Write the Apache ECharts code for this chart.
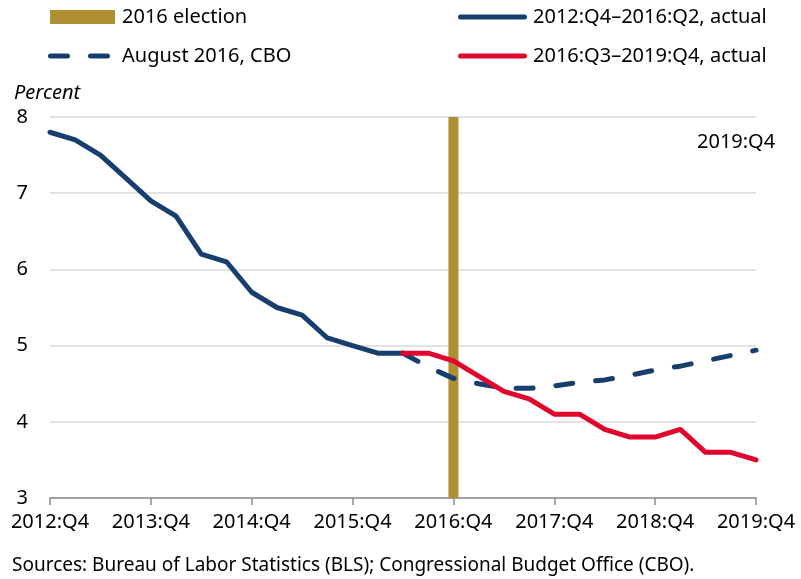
<!DOCTYPE html>
<html>
<head>
<meta charset="utf-8">
<script src="https://cdn.jsdelivr.net/npm/echarts@6/dist/echarts.min.js"></script>
<style>
  html, body { margin: 0; padding: 0; background: #fff; }
  #chart { width: 801px; height: 579px; }
</style>
</head>
<body>
<div id="chart"></div>
<script>
// quarters 2012:Q4 .. 2019:Q4
var quarters = ['2012:Q4',
  '2013:Q1', '2013:Q2', '2013:Q3', '2013:Q4',
  '2014:Q1', '2014:Q2', '2014:Q3', '2014:Q4',
  '2015:Q1', '2015:Q2', '2015:Q3', '2015:Q4',
  '2016:Q1', '2016:Q2', '2016:Q3', '2016:Q4',
  '2017:Q1', '2017:Q2', '2017:Q3', '2017:Q4',
  '2018:Q1', '2018:Q2', '2018:Q3', '2018:Q4',
  '2019:Q1', '2019:Q2', '2019:Q3', '2019:Q4']

var actualBefore = [7.8, 7.7, 7.5, 7.2, 6.9, 6.7, 6.2, 6.1, 5.7, 5.5, 5.4, 5.1, 5.0, 4.9, 4.9,
  null, null, null, null, null, null, null, null, null, null, null, null, null, null]

var actualAfter = [null, null, null, null, null, null, null, null, null, null, null, null, null, null,
  4.9, 4.9, 4.8, 4.6, 4.4, 4.3, 4.1, 4.1, 3.9, 3.8, 3.8, 3.9, 3.6, 3.6, 3.5]

var cboForecast = [null, null, null, null, null, null, null, null, null, null, null, null, null, null,
  4.9, 4.72, 4.57, 4.5, 4.44, 4.44, 4.47, 4.52, 4.55, 4.61, 4.68, 4.73, 4.8, 4.87, 4.94]

var election = quarters.map(function (q) { return q === '2016:Q4' ? 8 : null })

var yTicks = [3, 4, 5, 6, 7, 8]

var font = 'Noto Sans'
var blue = '#173f6d'
var red = '#e1062d'
var gold = '#ae9032'

// legend icons: a rounded bar, and two rounded dashes
var solidIcon = 'path://M2.5,0h64a2.5,2.5 0 0 1 0,5h-64a2.5,2.5 0 0 1 0,-5z'
var dashIcon = 'path://M2.5,0h17a2.5,2.5 0 0 1 0,5h-17a2.5,2.5 0 0 1 0,-5z M42.5,0h17a2.5,2.5 0 0 1 0,5h-17a2.5,2.5 0 0 1 0,-5z'

var chart = echarts.init(document.getElementById('chart'))

function legendItem(name, icon, left, top, w, h, pad) {
  return {
    left: left,
    top: top,
    itemWidth: w,
    itemHeight: h,
    itemGap: 0,
    selectedMode: false,
    itemStyle: { borderWidth: 0 },
    textStyle: { fontFamily: font, fontSize: 20, color: '#000', padding: [0, 0, 0, pad] },
    data: [{ name: name, icon: icon }]
  }
}

chart.setOption({
  backgroundColor: '#fff',
  animation: false,
  grid: { left: 50, right: 45, top: 117, bottom: 81 },
  legend: [
    legendItem('2016 election', 'rect', 45, 2, 65, 14, 2),
    legendItem('August 2016, CBO', dashIcon, 43, 41, 62, 5, 7),
    legendItem('2012:Q4–2016:Q2, actual', solidIcon, 453, 2, 69, 5, 1),
    legendItem('2016:Q3–2019:Q4, actual', solidIcon, 453, 41, 69, 5, 1)
  ],
  xAxis: {
    type: 'category',
    boundaryGap: false,
    data: quarters,
    axisLine: { lineStyle: { color: '#8c8c8c', width: 1.5 } },
    axisTick: { interval: 3, length: 7, lineStyle: { color: '#8c8c8c', width: 1.5 } },
    axisLabel: { interval: 3, margin: 14, fontFamily: font, fontSize: 20, color: '#000' },
    splitLine: { show: false }
  },
  yAxis: {
    type: 'value',
    min: yTicks[0],
    max: yTicks[yTicks.length - 1],
    interval: 1,
    axisLine: { show: false },
    axisTick: { show: false },
    axisLabel: { margin: 22, fontFamily: font, fontSize: 20, color: '#000' },
    splitLine: { lineStyle: { color: '#d9d9d9', width: 1.5 } }
  },
  graphic: [
    { type: 'text', left: 14, top: 83, style: { text: 'Percent', font: 'italic 20px "Noto Sans"', fill: '#000' } },
    { type: 'text', left: 697, top: 132, style: { text: '2019:Q4', font: '20px "Noto Sans"', fill: '#000' } },
    { type: 'text', left: 12, top: 556, style: { text: 'Sources: Bureau of Labor Statistics (BLS); Congressional Budget Office (CBO).', font: '19px "Noto Sans"', fill: '#000' } }
  ],
  series: [
    {
      name: '2016 election',
      type: 'bar',
      data: election,
      barWidth: 10,
      itemStyle: { color: gold },
      z: 1
    },
    {
      name: '2012:Q4–2016:Q2, actual',
      type: 'line',
      data: actualBefore,
      symbol: 'none',
      lineStyle: { color: blue, width: 5, cap: 'round', join: 'round' },
      itemStyle: { color: blue },
      z: 3
    },
    {
      name: 'August 2016, CBO',
      type: 'line',
      data: cboForecast,
      symbol: 'none',
      lineStyle: { color: blue, width: 5, type: [17, 23], cap: 'round' },
      itemStyle: { color: blue },
      z: 2
    },
    {
      name: '2016:Q3–2019:Q4, actual',
      type: 'line',
      data: actualAfter,
      symbol: 'none',
      lineStyle: { color: red, width: 5, cap: 'round', join: 'round' },
      itemStyle: { color: red },
      z: 4
    }
  ]
})
</script>
</body>
</html>
